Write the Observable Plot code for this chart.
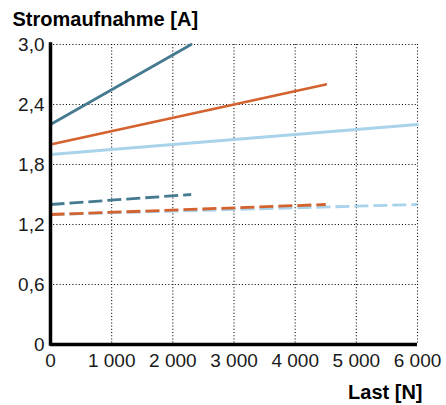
<!DOCTYPE html>
<html>
<head>
<meta charset="utf-8">
<script src="https://cdn.jsdelivr.net/npm/d3@7"></script>
<script src="https://cdn.jsdelivr.net/npm/@observablehq/plot@0.6"></script>
<style>
  html, body { margin: 0; padding: 0; background: #fff; }
  #chart svg { font-family: "Liberation Sans", Arial, Helvetica, sans-serif; }
</style>
</head>
<body>
<div id="chart"></div>
<script>
// ---- data ----
const seriesIds   = ["hell", "orange", "dunkel"];   // draw order: light blue, orange, dark blue
const lastMax     = [6000, 4500, 2300];             // load [N] at end of each line
const solidStart  = [1.9, 2.0, 2.2];                // current [A] at 0 N, solid lines
const solidEnd    = [2.2, 2.6, 3.0];                // current [A] at lastMax, solid lines
const dashedStart = [1.3, 1.3, 1.4];                // current [A] at 0 N, dashed lines
const dashedEnd   = [1.4, 1.4, 1.5];                // current [A] at lastMax, dashed lines
const xTicks = [0, 1000, 2000, 3000, 4000, 5000, 6000];
const yTicks = [0, 0.6, 1.2, 1.8, 2.4, 3.0];
const yTitle = "Stromaufnahme [A]";
const xTitle = "Last [N]";

// ---- styles ----
const colorRange = ["#a8d3ea", "#d4622f", "#467a90"];

const solidRows = [], dashedRows = [];
seriesIds.forEach((id, i) => {
  solidRows.push({id, last: 0, strom: solidStart[i]}, {id, last: lastMax[i], strom: solidEnd[i]});
  dashedRows.push({id, last: 0, strom: dashedStart[i]}, {id, last: lastMax[i], strom: dashedEnd[i]});
});

const fmtY = d => d === 0 ? "0" : d.toFixed(1).replace(".", ",");
const fmtX = d => d3.format(",")(d).replace(/,/g, "\u2009".replace("\u2009", " "));

const chart = Plot.plot({
  width: 446,
  height: 405,
  marginTop: 44,
  marginLeft: 50,
  marginRight: 29,
  marginBottom: 61,
  style: {fontSize: "19px", color: "#1a1a1a", background: "#fff"},
  x: {domain: [0, 6000]},
  y: {domain: [0, 3]},
  color: {domain: seriesIds, range: colorRange},
  marks: [
    Plot.gridX(xTicks.filter(d => d > 0), {stroke: "#000", strokeOpacity: 1, strokeWidth: 1.1, strokeDasharray: "1,2.2"}),
    Plot.gridY(yTicks.filter(d => d > 0), {stroke: "#000", strokeOpacity: 1, strokeWidth: 1.1, strokeDasharray: "1,2.2"}),
    Plot.axisX(xTicks, {tickSize: 0, tickPadding: 9, tickFormat: fmtX, label: null, fontSize: 19}),
    Plot.axisY(yTicks, {tickSize: 0, tickPadding: 6, tickFormat: fmtY, label: null, fontSize: 19}),
    Plot.line(solidRows, {x: "last", y: "strom", z: "id", stroke: "id", strokeWidth: 2.8}),
    Plot.line(dashedRows, {x: "last", y: "strom", z: "id", stroke: "id", strokeWidth: 2.8, strokeDasharray: "14,5", strokeLinecap: "butt"}),
    Plot.ruleX([0], {stroke: "#000", strokeWidth: 3.5, strokeLinecap: "square"}),
    Plot.ruleY([0], {stroke: "#000", strokeWidth: 3.5}),
    Plot.text([yTitle], {text: d => d, frameAnchor: "top-left", textAnchor: "start", lineAnchor: "bottom", dx: -38, dy: -19, fontSize: 20, fontWeight: "bold", fill: "#000"}),
    Plot.text([xTitle], {text: d => d, frameAnchor: "bottom-right", textAnchor: "end", lineAnchor: "bottom", dx: 5, dy: 54, fontSize: 20, fontWeight: "bold", fill: "#000"})
  ]
});
document.getElementById("chart").append(chart);
</script>
</body>
</html>
